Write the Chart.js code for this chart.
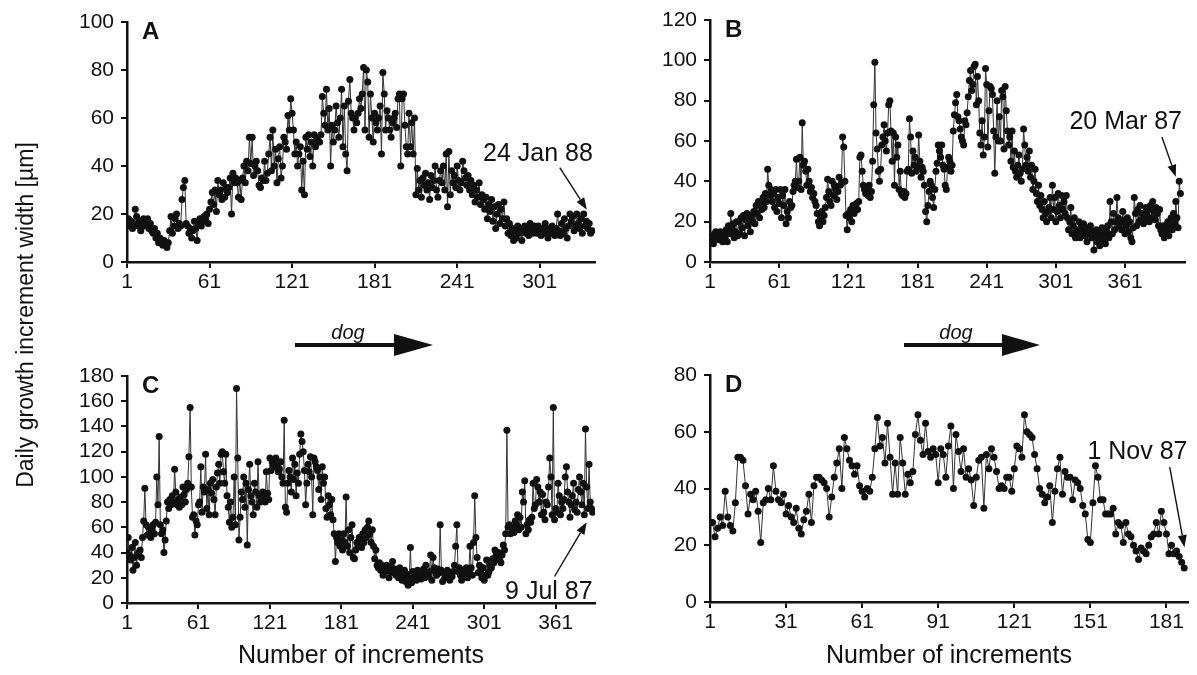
<!DOCTYPE html>
<html>
<head>
<meta charset="utf-8">
<script src="https://cdn.jsdelivr.net/npm/chart.js@4.4.1/dist/chart.umd.min.js"></script>
<style>
  body { margin: 0; background: #fff; }
  #fig { position: relative; width: 1197px; height: 675px; overflow: hidden; font-family: "Liberation Sans", Arial, sans-serif; color: #111; }
  canvas { position: absolute; }
  #panelA { left: 0; top: 0; }
  #panelB { left: 620px; top: 0; }
  #panelC { left: 0; top: 340px; }
  #panelD { left: 620px; top: 340px; }
  .ytitle { position: absolute; left: 25px; top: 315px; transform: translate(-50%, -50%) rotate(-90deg); white-space: nowrap; font-size: 23px; }
  svg.dogs { position: absolute; left: 0; top: 0; pointer-events: none; }
</style>
</head>
<body>
<div id="fig">
  <canvas id="panelA" width="620" height="310"></canvas>
  <canvas id="panelB" width="577" height="310"></canvas>
  <canvas id="panelC" width="620" height="335"></canvas>
  <canvas id="panelD" width="577" height="335"></canvas>
  <div class="ytitle">Daily growth increment width [µm]</div>
  <svg class="dogs" width="1197" height="675">
    <g fill="#111" font-family="Liberation Sans, Arial, sans-serif">
      <text x="348" y="339" font-style="italic" font-size="20" text-anchor="middle">dog</text>
      <rect x="295" y="343" width="100" height="4"></rect>
      <polygon points="394,334 433,345 394,356"></polygon>
      <text x="956" y="339" font-style="italic" font-size="20" text-anchor="middle">dog</text>
      <rect x="904" y="343" width="99" height="4"></rect>
      <polygon points="1002,334 1040,345 1002,356"></polygon>
    </g>
  </svg>
</div>
<script>
// daily increment widths (µm), one value per increment
const widthA = [16,18,15,17,14,16,22,19,15,17,
  13,16,18,15,17,18,14,16,13,12,
  14,10,12,8,10,9,7,9,8,6,
  8,13,19,12,15,18,20,14,16,15,
  26,31,34,16,15,12,14,10,13,17,
  14,9,16,18,15,17,19,18,20,16,
  22,25,29,24,30,21,34,28,30,26,
  33,27,31,29,31,35,20,37,33,35,
  33,27,34,26,35,40,33,42,38,52,
  41,52,36,40,42,38,32,31,35,34,
  42,34,37,45,52,38,55,40,47,33,
  43,48,35,40,52,50,47,61,55,68,
  62,55,45,50,40,45,48,30,42,28,
  52,47,53,44,50,40,53,48,52,50,
  50,53,69,62,57,72,55,64,40,57,
  50,55,65,58,52,60,72,48,65,45,
  38,67,76,62,60,55,60,58,62,68,
  64,70,81,55,80,75,52,70,60,50,
  62,58,55,60,65,45,79,70,55,63,
  60,55,52,58,60,62,56,68,70,40,
  68,70,57,48,45,62,48,58,45,60,
  28,39,30,34,27,35,32,37,30,33,
  26,36,31,34,40,30,27,34,38,33,
  40,30,45,23,46,28,38,33,36,31,
  40,34,30,33,42,38,35,32,36,30,
  34,28,32,25,30,27,33,24,28,26,
  22,27,18,24,21,26,17,23,14,20,
  24,16,22,18,25,15,18,12,16,11,
  14,9,13,10,15,12,14,9,13,15,
  12,14,11,16,13,12,15,14,12,15,
  13,11,14,12,16,13,10,14,12,15,
  13,11,14,20,13,11,16,12,18,14,
  10,15,20,17,19,13,15,20,16,14,
  18,12,20,15,17,14,16,12,13];

const widthB = [13,10,12,9,14,15,12,14,11,15,13,10,14,
  12,16,10,18,14,24,17,19,12,15,20,13,
  20,14,22,17,23,13,21,24,18,22,15,23,20,25,19,
  28,24,30,22,29,26,32,27,34,30,46,38,33,36,
  30,34,27,36,25,32,29,36,22,33,28,36,19,25,22,30,27,28,
  35,38,40,51,37,40,52,36,69,48,50,
  45,38,46,40,35,37,32,34,30,28,24,20,18,22,25,20,23,
  27,32,41,35,30,28,40,33,38,36,31,35,42,38,39,62,57,40,
  23,16,24,22,26,20,28,24,27,29,26,30,
  52,53,45,38,36,34,37,33,38,32,35,
  50,78,99,64,56,45,
  40,46,58,62,68,60,55,64,78,80,65,
  50,64,38,62,52,58,36,45,34,33,35,32,
  34,45,46,71,62,44,55,48,52,45,47,
  63,50,42,47,45,38,25,20,28,35,40,38,
  32,27,36,45,49,58,55,52,58,48,46,
  38,36,47,52,50,45,48,65,73,79,83,72,
  70,66,62,60,58,70,68,74,82,90,95,85,
  88,97,98,78,92,80,64,58,70,53,62,
  96,88,57,75,87,86,83,65,44,62,80,60,
  72,60,85,82,56,87,75,65,58,62,50,
  65,47,55,45,42,48,53,44,40,46,66,58,
  48,52,45,55,42,48,36,40,46,34,30,38,
  28,33,26,22,30,24,20,25,27,32,22,38,
  26,32,20,25,34,28,22,33,26,30,24,
  33,22,16,20,27,14,18,22,12,16,14,
  20,12,18,15,19,13,17,10,16,14,18,12,
  15,6,12,16,10,14,8,13,17,11,14,
  9,15,18,12,30,20,14,24,16,20,32,22,
  18,21,16,25,20,14,18,22,15,20,12,10,
  17,32,24,18,26,20,28,21,24,19,22,
  27,23,26,20,28,22,30,25,21,27,24,18,
  26,16,14,18,12,17,15,20,13,18,22,
  16,24,19,30,22,17,40,34];

const widthC = [40,52,38,34,44,26,36,48,30,38,40,
  42,36,52,65,91,62,54,60,
  55,52,58,62,55,64,100,78,132,62,55,
  58,40,50,65,80,75,82,78,85,80,
  106,88,78,82,76,84,78,92,86,80,90,
  95,116,155,92,68,70,54,65,
  62,78,80,108,72,92,88,118,75,90,70,
  95,87,98,82,70,92,103,110,95,118,120,
  104,95,118,85,76,64,80,60,68,100,62,
  170,115,50,68,88,82,100,76,95,46,
  90,110,85,80,70,95,88,76,112,85,
  80,82,88,85,80,104,87,82,115,105,112,
  108,110,115,108,104,106,112,100,95,145,76,
  72,95,105,100,88,115,98,110,85,103,95,
  118,134,128,120,105,78,95,110,104,116,100,
  70,115,112,108,105,90,100,82,108,95,100,75,
  68,85,78,70,82,66,55,33,52,48,55,
  45,50,42,55,48,84,45,58,40,52,62,36,
  35,42,48,45,52,50,44,55,48,58,52,
  60,65,55,48,58,45,35,42,30,28,32,
  26,30,22,28,25,30,27,20,25,29,33,
  24,27,22,25,20,28,24,18,22,26,17,
  23,14,20,44,16,25,20,23,18,26,21,
  24,19,22,27,20,30,24,21,25,38,18,
  36,28,25,22,27,24,62,26,17,24,20,
  22,26,20,18,24,21,25,30,45,62,25,
  28,22,18,26,21,24,28,20,24,45,
  28,22,48,85,52,36,24,30,26,20,28,18,22,
  34,22,25,30,28,35,32,42,38,36,40,34,
  32,38,46,42,55,137,60,
  62,55,60,58,56,65,62,70,58,68,60,88,
  80,97,55,62,58,66,64,68,95,75,78,
  98,92,80,88,70,86,72,66,80,78,92,
  115,100,70,155,66,75,72,95,85,70,80,
  75,82,100,108,88,80,68,78,85,95,74,
  80,72,90,100,88,78,95,70,138,92,75,110,80,75,72];

const widthD = [28,28,23,26,30,27,39,30,27,25,
  35,51,51,50,41,31,38,36,39,32,
  21,35,36,40,36,48,39,36,35,38,
  31,34,30,28,33,26,24,29,32,38,
  28,41,44,44,43,42,40,30,37,44,
  49,54,40,58,54,50,48,45,48,41,
  39,37,40,39,44,54,65,55,58,49,
  63,51,38,49,38,58,49,38,45,42,
  46,59,66,57,52,63,53,51,54,52,
  42,54,52,44,55,62,40,59,53,46,
  54,44,47,43,34,44,50,51,33,52,
  47,54,51,46,40,41,40,44,44,39,
  47,55,54,51,66,60,59,58,52,47,
  40,38,35,37,41,28,39,47,51,38,
  46,44,44,36,43,42,40,34,31,22,
  21,35,48,44,36,36,31,31,31,33,
  24,28,27,21,28,24,23,20,18,15,
  19,18,17,20,23,24,28,24,32,28,
  24,17,20,17,18,16,14,12];

const xTicksA = [1, 61, 121, 181, 241, 301];
const xTicksB = [1, 61, 121, 181, 241, 301, 361];
const xTicksC = [1, 61, 121, 181, 241, 301, 361];
const xTicksD = [1, 31, 61, 91, 121, 151, 181];

const FONT = '"Liberation Sans", Arial, sans-serif';
Chart.defaults.font.family = FONT;
Chart.defaults.color = "#111";

function drawArrow(ctx, x0, y0, x1, y1) {
    const a = Math.atan2(y1 - y0, x1 - x0);
    const len = 12, half = 4.5;
    const bx = x1 - len * Math.cos(a), by = y1 - len * Math.sin(a);
    ctx.beginPath();
    ctx.moveTo(x0, y0);
    ctx.lineTo(bx, by);
    ctx.stroke();
    ctx.beginPath();
    ctx.moveTo(x1, y1);
    ctx.lineTo(bx + half * Math.sin(a), by - half * Math.cos(a));
    ctx.lineTo(bx - half * Math.sin(a), by + half * Math.cos(a));
    ctx.closePath();
    ctx.fill();
}

// panel letter + date label with its arrow
const panelNotes = {
    id: "panelNotes",
    afterDraw(chart, args, opts) {
        const { ctx, chartArea, scales } = chart;
        const x = scales.x, y = scales.y;
        ctx.save();
        ctx.fillStyle = "#111";
        ctx.strokeStyle = "#111";
        ctx.lineWidth = 1.4;
        ctx.font = `bold 24px ${FONT}`;
        ctx.textBaseline = "top";
        ctx.textAlign = "left";
        ctx.fillText(opts.letter, chartArea.left + 15, chartArea.top - 2);
        const n = opts.note;
        if (n) {
            ctx.font = `25px ${FONT}`;
            ctx.textAlign = "right";
            ctx.textBaseline = "alphabetic";
            ctx.fillText(n.text, x.getPixelForValue(n.at[0]), y.getPixelForValue(n.at[1]));
            drawArrow(ctx,
                x.getPixelForValue(n.from[0]), y.getPixelForValue(n.from[1]),
                x.getPixelForValue(n.to[0]), y.getPixelForValue(n.to[1]));
        }
        ctx.restore();
    }
};

function buildPanel(id, values, xTicks, xMax, yMax, yStep, box, letter, note, xTitle) {
    const axisGrid = { display: true, drawOnChartArea: false, tickLength: 6, color: "#111", lineWidth: 2 };
    const axisBorder = { display: true, color: "#111", width: 2.5 };
    return new Chart(document.getElementById(id), {
        type: "line",
        data: {
            datasets: [{
                data: values.map((v, i) => ({ x: i + 1, y: v })),
                borderColor: "#333",
                borderWidth: 1,
                pointRadius: 3.5,
                pointBackgroundColor: "#111",
                pointBorderColor: "#111",
                pointBorderWidth: 0,
                tension: 0
            }]
        },
        options: {
            responsive: false,
            animation: false,
            layout: { padding: { top: box.top, right: box.right, left: 0, bottom: 0 } },
            plugins: {
                legend: { display: false },
                tooltip: { enabled: false },
                panelNotes: { letter, note }
            },
            scales: {
                x: {
                    type: "linear",
                    min: 1,
                    max: xMax,
                    afterBuildTicks: (s) => { s.ticks = xTicks.map((v) => ({ value: v })); },
                    afterFit: (s) => { s.height = box.xh; },
                    grid: axisGrid,
                    border: axisBorder,
                    ticks: { color: "#111", font: { size: 21 }, padding: 2, maxRotation: 0, autoSkip: false },
                    title: xTitle
                        ? { display: true, text: xTitle, color: "#111", font: { size: 25 }, padding: { top: 2, bottom: 4 } }
                        : { display: false }
                },
                y: {
                    min: 0,
                    max: yMax,
                    afterFit: (s) => { s.width = box.yw; },
                    grid: axisGrid,
                    border: axisBorder,
                    ticks: { stepSize: yStep, color: "#111", font: { size: 21 }, padding: 7, autoSkip: false }
                }
            }
        },
        plugins: [panelNotes]
    });
}

buildPanel("panelA", widthA, xTicksA, 341.2, 100, 20,
    { top: 22, right: 25, yw: 127, xh: 48 }, "A",
    { text: "24 Jan 88", at: [339.6, 42], from: [315.6, 39.3], to: [335.3, 21.8] });

buildPanel("panelB", widthB, xTicksB, 413, 120, 20,
    { top: 20, right: 12, yw: 90, xh: 48 }, "B",
    { text: "20 Mar 87", at: [410.4, 66], from: [393, 62], to: [405, 42.3] });

buildPanel("panelC", widthC, xTicksC, 394, 180, 20,
    { top: 36, right: 25, yw: 127, xh: 72 }, "C",
    { text: "9 Jul 87", at: [392, 3], from: [360, 21], to: [387, 64] },
    "Number of increments");

buildPanel("panelD", widthD, xTicksD, 189.5, 80, 20,
    { top: 35, right: 9, yw: 90, xh: 73 }, "D",
    { text: "1 Nov 87", at: [189.3, 50.4], from: [182.3, 47.5], to: [188.1, 19.3] },
    "Number of increments");
</script>
</body>
</html>
